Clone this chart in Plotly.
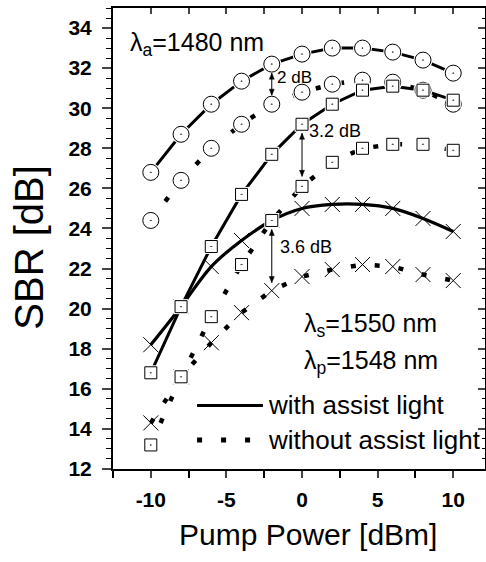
import plotly.graph_objects as go

pump = [-10, -8, -6, -4, -2, 0, 2, 4, 6, 8, 10]

circ_with = [26.8, 28.7, 30.2, 31.35, 32.2, 32.7, 33.0, 33.0, 32.8, 32.4, 31.75]
circ_without = [24.4, 26.4, 28.0, 29.2, 30.2, 30.8, 31.2, 31.4, 31.3, 30.9, 30.2]
sq_with = [16.8, 20.1, 23.1, 25.7, 27.7, 29.2, 30.2, 30.9, 31.1, 30.9, 30.4]
sq_without = [13.2, 16.6, 19.6, 22.2, 24.4, 26.1, 27.3, 28.0, 28.2, 28.2, 27.9]
x_with = [18.2, 20.1, 22.1, 23.4, 24.4, 25.0, 25.2, 25.2, 25.0, 24.5, 23.85]
x_without = [14.3, 16.6, 18.3, 19.8, 20.9, 21.6, 21.95, 22.2, 22.1, 21.7, 21.4]

x_ticks = [-10, -5, 0, 5, 10]
x_ticktext = ["-10", "-5", "0", "5", "10"]
y_ticks = [12, 14, 16, 18, 20, 22, 24, 26, 28, 30, 32, 34]

FONT = "Liberation Sans"
DOT = "5px,19px"

fig = go.Figure()

# lines
fig.add_trace(go.Scatter(x=pump, y=circ_with, mode="lines", line=dict(color="black", width=3)))
fig.add_trace(go.Scatter(x=pump, y=sq_with, mode="lines", line=dict(color="black", width=3)))
fig.add_trace(go.Scatter(x=pump, y=x_with, mode="lines",
                         line=dict(color="black", width=3.2, shape="spline", smoothing=1.0)))
for ys in (circ_without, sq_without, x_without):
    fig.add_trace(go.Scatter(x=pump, y=ys, mode="lines", line=dict(color="black", width=4.5, dash=DOT)))

# X markers (drawn beneath the open markers)
for ys in (x_with, x_without):
    fig.add_trace(go.Scatter(x=pump, y=ys, mode="markers",
                             marker=dict(symbol="x-thin-open", size=15, color="black",
                                         line=dict(color="#333", width=1))))
# marker halos + open markers
for ys, sym, size in ((circ_with, "circle", 16), (circ_without, "circle", 16),
                      (sq_with, "square", 12), (sq_without, "square", 12)):
    fig.add_trace(go.Scatter(x=pump, y=ys, mode="markers",
                             marker=dict(symbol=sym, size=size + 3, color="white", line=dict(width=0))))
    fig.add_trace(go.Scatter(x=pump, y=ys, mode="markers",
                             marker=dict(symbol=sym + "-dot", size=size, color="white",
                                         line=dict(color="black", width=1))))

# mirror axes (inside ticks on top / right)
fig.add_trace(go.Scatter(x=[0], y=[20], xaxis="x2", yaxis="y2", mode="markers",
                         marker=dict(opacity=0), hoverinfo="skip"))

ann = []
shapes = []


def txt(x, y, s, size, xref="x", yref="y", xanchor="left", yanchor="middle", angle=0):
    ann.append(dict(x=x, y=y, xref=xref, yref=yref, text=s, showarrow=False, textangle=angle,
                    xanchor=xanchor, yanchor=yanchor, font=dict(family=FONT, size=size, color="black")))


def darrow(xv, y_top, y_bot):
    head = 6
    shapes.append(dict(type="line", xref="x", yref="y", x0=xv, x1=xv, y0=y_bot, y1=y_top,
                       line=dict(color="black", width=1)))
    shapes.append(dict(type="path", xref="x", yref="y", xsizemode="pixel", ysizemode="pixel",
                       xanchor=xv, yanchor=y_top, path=f"M0,0 L-2.5,-{head} L2.5,-{head} Z",
                       fillcolor="black", line=dict(color="black", width=0.5)))
    shapes.append(dict(type="path", xref="x", yref="y", xsizemode="pixel", ysizemode="pixel",
                       xanchor=xv, yanchor=y_bot, path=f"M0,0 L-2.5,{head} L2.5,{head} Z",
                       fillcolor="black", line=dict(color="black", width=0.5)))


txt(-11.5, 33.2, "λ<sub>a</sub>=1480 nm", 25)
txt(-1.8, 31.55, "2 dB", 17)
txt(0.3, 28.85, "3.2 dB", 18)
txt(-1.6, 23.1, "3.6 dB", 18)
txt(0.0, 19.2, "λ<sub>s</sub>=1550 nm", 25)
txt(0.0, 17.35, "λ<sub>p</sub>=1548 nm", 25)
darrow(-2, 31.75, 30.65)
darrow(0, 28.75, 26.6)
darrow(-2, 23.95, 21.3)

# axis titles (paper coords are relative to the plot area)
txt(-0.226, 0.482, "SBR [dB]", 40, xref="paper", yref="paper", xanchor="center", angle=-90)
txt(0.524, -0.143, "Pump Power [dBm]", 30, xref="paper", yref="paper", xanchor="center")

# manual legend
leg_y1, leg_y2 = 0.138, 0.063
shapes += [
    dict(type="line", xref="x domain", yref="y domain", x0=0.226, x1=0.403, y0=leg_y1, y1=leg_y1,
         line=dict(color="black", width=3)),
    dict(type="line", xref="x domain", yref="y domain", x0=0.226, x1=0.403, y0=leg_y2, y1=leg_y2,
         line=dict(color="black", width=5, dash="5px,19px")),
]
txt(0.41, leg_y1, "with assist light", 26, xref="x domain", yref="y domain")
txt(0.41, leg_y2, "without assist light", 26, xref="x domain", yref="y domain")

xr = [-12.5, 12.1]
yr = [12, 35]
fig.update_layout(
    width=486, height=562, margin=dict(l=113, r=1, t=8, b=93),
    paper_bgcolor="white", plot_bgcolor="white", showlegend=False,
    font=dict(family=FONT, color="black"),
    annotations=ann, shapes=shapes,
    xaxis=dict(range=xr, tickvals=x_ticks, ticktext=x_ticktext, ticks="outside", ticklen=7, tickwidth=1.5,
               showline=True, linewidth=2, linecolor="black", showgrid=False, zeroline=False,
               tickfont=dict(family=FONT, size=21, weight="bold"), ticklabelstandoff=4,
               minor=dict(tick0=-12.5, dtick=2.5, ticks="outside", ticklen=7, tickwidth=1.5, tickcolor="black")),
    yaxis=dict(range=yr, tickvals=y_ticks, ticks="outside", ticklen=9, tickwidth=1.5,
               showline=True, linewidth=2, linecolor="black", showgrid=False, zeroline=False,
               tickfont=dict(family=FONT, size=21, weight="bold"), ticklabelstandoff=6,
               minor=dict(tick0=12, dtick=0.5, ticks="outside", ticklen=5, tickwidth=1, tickcolor="black")),
    xaxis2=dict(range=xr, overlaying="x", side="top", anchor="y", showticklabels=False,
                tick0=-12.5, dtick=2.5, ticks="inside", ticklen=6, tickwidth=1.5,
                showline=True, linewidth=2, linecolor="black", showgrid=False, zeroline=False),
    yaxis2=dict(range=yr, overlaying="y", side="right", anchor="x", showticklabels=False,
                tick0=12, dtick=2, ticks="inside", ticklen=7, tickwidth=1.5,
                minor=dict(tick0=12, dtick=0.5, ticks="inside", ticklen=3, tickwidth=1, tickcolor="black"),
                showline=True, linewidth=1, linecolor="black", showgrid=False, zeroline=False),
)

fig.write_html("out.html")
